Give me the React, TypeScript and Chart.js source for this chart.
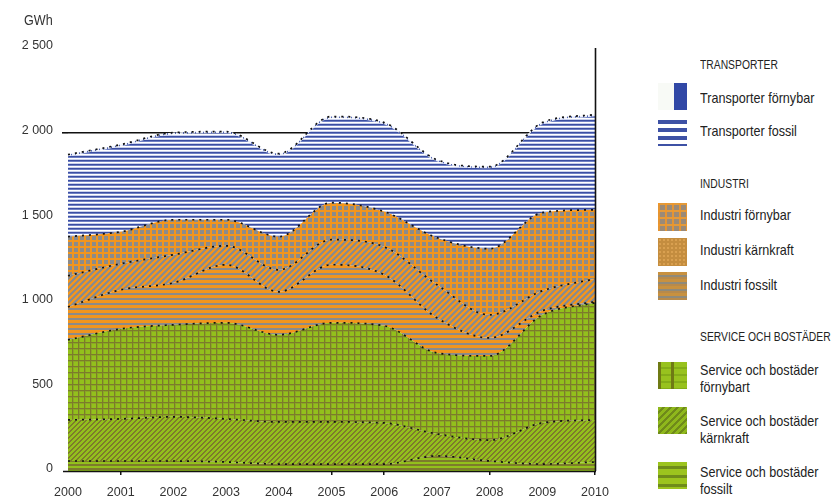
import React, { useEffect, useRef } from 'react';
import { Chart, registerables } from 'chart.js';
Chart.register(...registerables);

const years = ['2000', '2001', '2002', '2003', '2004', '2005', '2006', '2007', '2008', '2009', '2010'];
const serviceFossilt = [59, 59, 59, 53, 41, 41, 41, 89, 59, 41, 53];
const serviceKarnkraft = [243, 249, 261, 255, 249, 249, 243, 130, 124, 243, 249];
const serviceFornybart = [473, 532, 544, 568, 515, 586, 574, 479, 497, 639, 692];
const industriFossilt = [195, 231, 248, 343, 254, 343, 302, 207, 107, 24, 6];
const industriKarnkraft = [184, 154, 166, 112, 130, 148, 165, 196, 136, 118, 136];
const industriFornybar = [231, 189, 207, 154, 196, 219, 208, 278, 391, 462, 408];
const transportFossil = [475, 505, 505, 511, 481, 499, 516, 451, 475, 522, 553];
const transportFornybar = [10, 10, 10, 10, 10, 10, 10, 10, 10, 10, 10];
const yTicks = [0, 500, 1000, 1500, 2000, 2500];
const tickedYears = ['2001', '2005', '2006', '2008', '2010'];

const FONT = "'Liberation Sans', Arial, sans-serif";

function tile(size: number, fn: (x: number, y: number) => string) {
  const c = document.createElement('canvas');
  c.width = size;
  c.height = size;
  const g = c.getContext('2d')!;
  for (let y = 0; y < size; y++) {
    for (let x = 0; x < size; x++) {
      g.fillStyle = fn(x, y);
      g.fillRect(x, y, 1, 1);
    }
  }
  return c;
}

const ORANGE = '#f2951d';
const GRAY = '#8b8b8b';
const GREEN = '#93c01c';
const OLIVE = '#7d7b2c';
const MIDG = '#8aa824';

function makePatterns(ctx: CanvasRenderingContext2D) {
  const p = (c: HTMLCanvasElement) => ctx.createPattern(c, 'repeat')!;
  const blueRows = ['#3b4ea2', '#6f80c4', '#ffffff', '#c9d0ec'];
  const gridG = (x: number, y: number) => {
    const a = x % 6, b = y % 6;
    if (a === 0 || b === 0) return OLIVE;
    if (a === 1 || b === 1) return MIDG;
    return GREEN;
  };
  return {
    tFossil: p(tile(4, (x, y) => blueRows[y % 4])),
    tForny: p(tile(4, (x, y) => (x % 4 === 3 ? '#5064b0' : '#eef1fa'))),
    iForny: p(tile(6, (x, y) => (x % 6 < 2 || y % 6 < 2 ? ORANGE : GRAY))),
    iKarn: p(tile(6, (x, y) => ((x + y) % 6 < 3 ? ORANGE : GRAY))),
    iFossil: p(tile(5, (x, y) => (y % 5 < 3 ? ORANGE : GRAY))),
    sForny: p(tile(6, gridG)),
    sKarn: p(tile(5, (x, y) => ((x + y) % 5 < 2 ? OLIVE : GREEN))),
    sFossil: p(tile(4, (x, y) => (y % 4 < 2 ? OLIVE : GREEN))),
  };
}

const framePlugin = {
  id: 'frame',
  afterDatasetsDraw(chart: any) {
    const { ctx, chartArea: a } = chart;
    ctx.save();
    ctx.strokeStyle = '#111';
    ctx.lineWidth = 1.6;
    ctx.beginPath();
    ctx.moveTo(a.left - 5, a.bottom + 0.5);
    ctx.lineTo(a.right + 1, a.bottom + 0.5);
    ctx.moveTo(a.right + 0.5, a.top);
    ctx.lineTo(a.right + 0.5, a.bottom);
    ctx.stroke();
    ctx.restore();
  },
};

function ChartCanvas() {
  const ref = useRef<HTMLCanvasElement>(null);
  useEffect(() => {
    const canvas = ref.current!;
    const ctx = canvas.getContext('2d')!;
    const pt = makePatterns(ctx);
    const edge = { borderColor: '#111', borderWidth: 1.7, borderDash: [2, 5] };
    const mk = (label: string, data: number[], bg: any, fill: any, border = true) => ({
      label,
      data,
      backgroundColor: bg,
      fill,
      pointRadius: 0,
      cubicInterpolationMode: 'monotone',
      ...(border ? edge : { borderWidth: 0, borderColor: 'rgba(0,0,0,0)' }),
    });
    const chart = new Chart(ctx, {
      type: 'line',
      data: {
        labels: years,
        datasets: [
          mk('Service och bostäder fossilt', serviceFossilt, pt.sFossil, 'origin'),
          mk('Service och bostäder kärnkraft', serviceKarnkraft, pt.sKarn, '-1'),
          mk('Service och bostäder förnybart', serviceFornybart, pt.sForny, '-1'),
          mk('Industri fossilt', industriFossilt, pt.iFossil, '-1'),
          mk('Industri kärnkraft', industriKarnkraft, pt.iKarn, '-1'),
          mk('Industri förnybar', industriFornybar, pt.iForny, '-1'),
          mk('Transporter fossil', transportFossil, pt.tFossil, '-1', false),
          mk('Transporter förnybar', transportFornybar, pt.tForny, '-1'),
        ] as any,
      },
      options: {
        animation: false,
        responsive: false,
        events: [],
        layout: { padding: { top: 48, right: 25, bottom: 0, left: 0 } },
        plugins: { legend: { display: false }, tooltip: { enabled: false } },
        scales: {
          x: {
            offset: false,
            grid: {
              drawOnChartArea: false,
              tickLength: 4,
              lineWidth: 1.5,
              color: (c: any) => (tickedYears.includes(years[c.index]) ? '#111' : 'rgba(0,0,0,0)'),
            },
            border: { display: false },
            ticks: { color: '#333', font: { family: FONT, size: 12.5 }, padding: 10, maxRotation: 0, autoSkip: false },
            afterFit: (s: any) => { s.height = 26; },
          },
          y: {
            stacked: true,
            min: 0,
            max: 2500,
            afterBuildTicks: (s: any) => { s.ticks = yTicks.map((v) => ({ value: v })); },
            grid: {
              tickLength: 6,
              lineWidth: 1.6,
              color: (c: any) => (c.tick && c.tick.value === 2000 ? '#111' : 'rgba(0,0,0,0)'),
            },
            border: { display: false },
            ticks: {
              color: '#333',
              font: { family: FONT, size: 12.5 },
              padding: 9,
              labelOffset: -2,
              callback: (v: any) => String(v).replace(/\B(?=(\d{3})+(?!\d))/g, ' '),
            },
            afterFit: (s: any) => { s.width = 68; },
          },
        },
      },
      plugins: [framePlugin],
    } as any);
    return () => chart.destroy();
  }, []);
  return <canvas ref={ref} width={620} height={497} style={{ position: 'absolute', left: 0, top: 0 }} />;
}

type Item = { top: number; h: number; bg: string; text: string[]; textTop: number };

const items: Item[] = [
  { top: 83, h: 27, bg: `linear-gradient(to right, #f8faf6 0 55%, #3148a6 55% 100%)`, text: ['Transporter förnybar'], textTop: 90 },
  { top: 120, h: 26, bg: `repeating-linear-gradient(to bottom, #3d51a5 0 4px, #ffffff 4px 8px)`, text: ['Transporter fossil'], textTop: 123 },
  { top: 203, h: 28, bg: `repeating-linear-gradient(to right, rgba(240,150,40,0.85) 0 2px, rgba(0,0,0,0) 2px 7px), repeating-linear-gradient(to bottom, #e39a3a 0 2px, #9a8a78 2px 7px)`, text: ['Industri förnybar'], textTop: 207 },
  { top: 238, h: 28, bg: `radial-gradient(circle, #d9a050 1px, rgba(0,0,0,0) 1.5px) 0 0 / 4px 4px, #c48d3f`, text: ['Industri kärnkraft'], textTop: 242 },
  { top: 272, h: 28, bg: `repeating-linear-gradient(to bottom, #c8913f 0 3px, #8f8a7a 3px 5px, #b88a4a 5px 7px)`, text: ['Industri fossilt'], textTop: 277 },
  { top: 362, h: 27, bg: `linear-gradient(to right, #6f7a14 0 3px, rgba(0,0,0,0) 3px 13px, #6f7a14 13px 16px, rgba(0,0,0,0) 16px), repeating-linear-gradient(to bottom, #98c21e 0 5px, #84ad18 5px 7px)`, text: ['Service och bostäder', 'förnybart'], textTop: 362 },
  { top: 407, h: 27, bg: `repeating-linear-gradient(135deg, #8fb81c 0 3px, #6f8a1a 3px 5px)`, text: ['Service och bostäder', 'kärnkraft'], textTop: 413 },
  { top: 462, h: 27, bg: `repeating-linear-gradient(to bottom, #9cc41e 0 4px, #6f8c1a 4px 7px, #9cc41e 7px 9px)`, text: ['Service och bostäder', 'fossilt'], textTop: 464 },
];

const headers = [
  { text: 'TRANSPORTER', top: 56 },
  { text: 'INDUSTRI', top: 175 },
  { text: 'SERVICE OCH BOSTÄDER', top: 328 },
];

export default function App() {
  useEffect(() => {
    document.body.style.margin = '0';
  }, []);
  const textStyle: React.CSSProperties = {
    position: 'absolute',
    left: 700,
    fontFamily: FONT,
    fontSize: 15,
    lineHeight: '16.5px',
    color: '#222',
    whiteSpace: 'nowrap',
    transform: 'scaleX(0.84)',
    transformOrigin: 'left center',
  };
  return (
    <div style={{ position: 'relative', width: 837, height: 497, background: '#fff', overflow: 'hidden' }}>
      <ChartCanvas />
      <div style={{ position: 'absolute', left: 24, top: 11, fontFamily: FONT, fontSize: 15, color: '#333', transform: 'scaleX(0.84)', transformOrigin: 'left center' }}>GWh</div>
      {headers.map((h) => (
        <div key={h.text} style={{ ...textStyle, top: h.top, fontSize: 12.3, lineHeight: '18px' }}>{h.text}</div>
      ))}
      {items.map((it) => (
        <React.Fragment key={it.text.join(' ')}>
          <div style={{ position: 'absolute', left: 658, top: it.top, width: 29, height: it.h, background: it.bg }} />
          <div style={{ ...textStyle, top: it.textTop }}>
            {it.text.map((t) => (
              <div key={t}>{t}</div>
            ))}
          </div>
        </React.Fragment>
      ))}
    </div>
  );
}
